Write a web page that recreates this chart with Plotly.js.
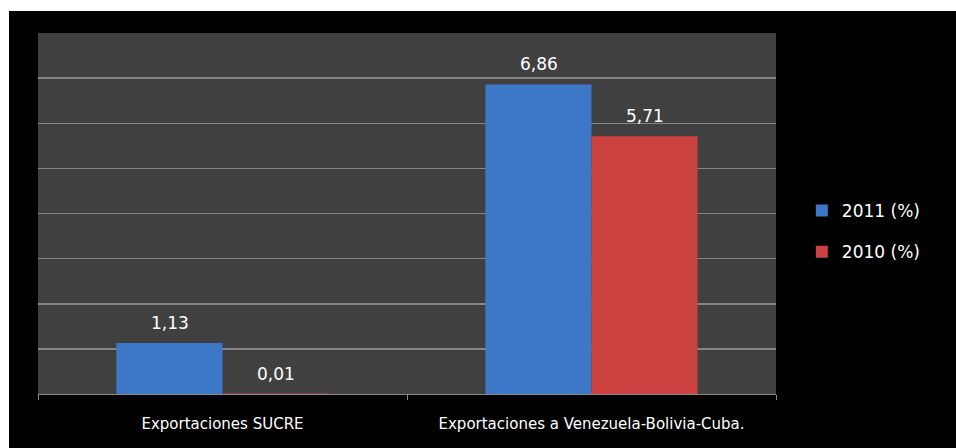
<!DOCTYPE html>
<html>
<head>
<meta charset="utf-8">
<script src="https://cdn.plot.ly/plotly-3.0.1.min.js"></script>
<style>
  html, body { margin: 0; padding: 0; background: #ffffff; width: 956px; height: 448px; overflow: hidden; }
  #chart { position: absolute; left: 9px; top: 11px; width: 947px; height: 437px; }
</style>
</head>
<body>
<div id="chart"></div>
<script>
const categories = ["Exportaciones SUCRE", "Exportaciones a Venezuela-Bolivia-Cuba."];
const seriesNames = ["2011 (%)", "2010 (%)"];
const values2011 = [1.13, 6.86];
const values2010 = [0.01, 5.71];

const colors = ["#3d78c8", "#cc4240"];
const series = [values2011, values2010];

const traces = series.map((vals, i) => ({
  type: "bar",
  name: seriesNames[i],
  x: categories,
  y: vals,
  legendgroup: "g" + i,
  marker: { color: colors[i], line: { width: 0 } },
  hoverinfo: "skip"
}));

const fmt = v => v.toFixed(2).replace(".", ",");
const annotations = [];
series.forEach((vals, i) => {
  vals.forEach((v, j) => {
    annotations.push({
      x: categories[j], y: v, xref: "x", yref: "y",
      text: fmt(v), showarrow: false,
      xshift: i === 0 ? -53 : 53,
      yanchor: "bottom", yshift: 8,
      font: { family: "DejaVu Sans", size: 17, color: "#ffffff" }
    });
  });
});

const layout = {
  width: 947, height: 437,
  paper_bgcolor: "#000000",
  plot_bgcolor: "#404040",
  margin: { l: 29, r: 180, t: 22, b: 54 },
  barmode: "group",
  bargap: 0.425,
  bargroupgap: 0,
  showlegend: true,
  legend: {
    x: 1.035, xanchor: "left", y: 0.45, yanchor: "middle",
    traceorder: "grouped", tracegroupgap: 16,
    font: { family: "DejaVu Sans", size: 17, color: "#ffffff" },
    bgcolor: "rgba(0,0,0,0)"
  },
  xaxis: {
    type: "category",
    showline: true, linecolor: "#8a8a8a", linewidth: 1,
    ticks: "outside", tickson: "boundaries", ticklen: 5, tickcolor: "#8a8a8a",
    ticklabelstandoff: 16,
    tickfont: { family: "DejaVu Sans", size: 15, color: "#ffffff" },
    showgrid: false, zeroline: false, fixedrange: true
  },
  yaxis: {
    range: [0, 8], dtick: 1, tick0: 0,
    showticklabels: false, ticks: "",
    showgrid: true, gridcolor: "#858585", gridwidth: 1.5,
    zeroline: false, showline: false, fixedrange: true
  },
  annotations: annotations
};

Plotly.newPlot("chart", traces, layout, { staticPlot: true, displayModeBar: false });
</script>
</body>
</html>
